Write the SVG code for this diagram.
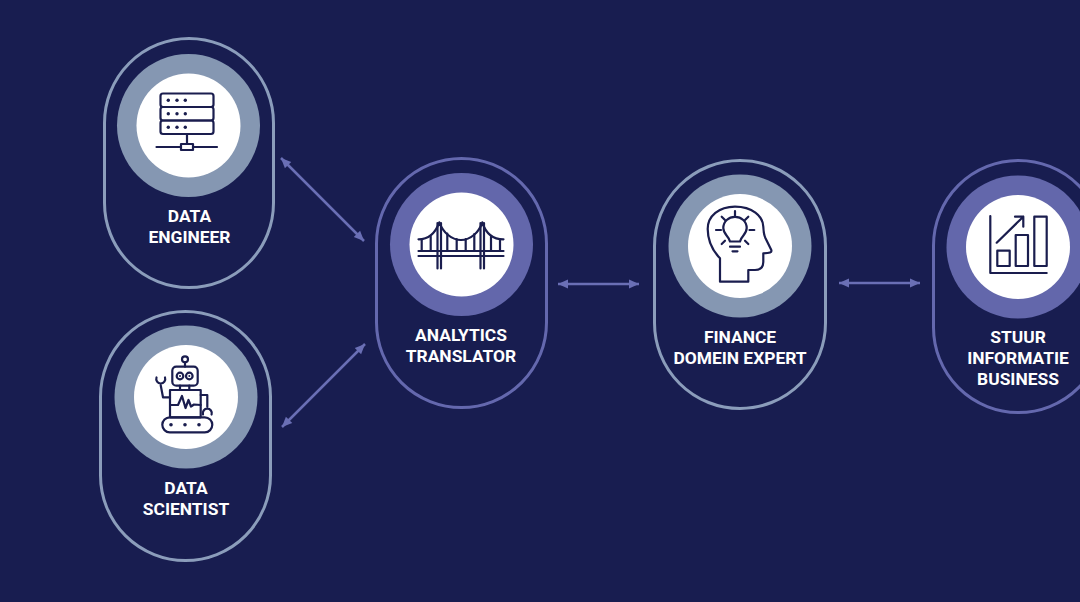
<svg xmlns="http://www.w3.org/2000/svg" width="1080" height="602" viewBox="0 0 1080 602">
<style>
.pa{fill:none;stroke:#8b9dbb;stroke-width:3}
.pb{fill:none;stroke:#6468ae;stroke-width:3}
.ca{fill:#8597b2}
.cb{fill:#6367ab}
.w{fill:#fff}
.i{fill:none;stroke:#1a1d4e;stroke-width:2.200;stroke-linecap:round;stroke-linejoin:round}
.d{fill:#1a1d4e}
.t{font-family:Roboto,"Liberation Sans",sans-serif;font-weight:700;font-size:17.400px;fill:#fff;text-anchor:middle}
.c{fill:none;stroke:#6a6fb5;stroke-width:2.500;marker-start:url(#s);marker-end:url(#e)}
</style>
<defs>
<marker id="e" markerUnits="userSpaceOnUse" markerWidth="12" markerHeight="10" refX="10" refY="5" orient="auto"><path d="M0 .5L10 5L0 9.500Z" fill="#6a6fb5"/></marker>
<marker id="s" markerUnits="userSpaceOnUse" markerWidth="12" markerHeight="10" refX="0" refY="5" orient="auto"><path d="M10 .5L0 5L10 9.500Z" fill="#6a6fb5"/></marker>
</defs>
<rect width="1080" height="602" fill="#181d50"/>
<g id="connectors">
<line class="c" x1="281" y1="158" x2="364" y2="241"/>
<line class="c" x1="282" y1="427" x2="365" y2="344"/>
<line class="c" x1="558" y1="284" x2="639" y2="284"/>
<line class="c" x1="839" y1="283" x2="920" y2="283"/>
</g>
<g id="data-engineer">
<rect class="pa" x="104.500" y="38.500" width="169" height="249" rx="84.500"/>
<circle class="ca" cx="188.500" cy="125.500" r="71.500"/><circle class="w" cx="188.500" cy="125.500" r="52"/>
<rect class="i" x="160.500" y="93.500" width="53" height="13.500" rx="2.500"/>
<rect class="i" x="160.500" y="107" width="53" height="13.500" rx="2.500"/>
<rect class="i" x="160.500" y="120.500" width="53" height="13.500" rx="2.500"/>
<g class="d"><circle cx="168.300" cy="100.300" r="1.700"/><circle cx="177" cy="100.300" r="1.700"/><circle cx="185.300" cy="100.300" r="1.700"/><circle cx="168.300" cy="113.800" r="1.700"/><circle cx="177" cy="113.800" r="1.700"/><circle cx="185.300" cy="113.800" r="1.700"/><circle cx="168.300" cy="127.300" r="1.700"/><circle cx="177" cy="127.300" r="1.700"/><circle cx="185.300" cy="127.300" r="1.700"/></g>
<path class="i" d="M187 134V144M156.500 147H181M193 147H217"/>
<rect class="i" x="181" y="144" width="12" height="6"/>
<text class="t" x="189.500" y="222">DATA</text><text class="t" x="189.500" y="243">ENGINEER</text>
</g>
<g id="data-scientist">
<rect class="pa" x="100.500" y="311.500" width="170" height="249" rx="85"/>
<circle class="ca" cx="186" cy="397" r="71.500"/><circle class="w" cx="186" cy="397" r="52"/>
<circle class="i" cx="185" cy="359.300" r="3"/><path class="i" d="M185 362.300V366.700"/>
<rect class="i" x="172.300" y="366.700" width="25.400" height="19" rx="4"/>
<circle class="i" cx="180" cy="376" r="3.300"/><circle class="i" cx="189.300" cy="376" r="3.300"/>
<circle class="d" cx="180" cy="376" r="1"/><circle class="d" cx="189.300" cy="376" r="1"/>
<path class="i" d="M180 385.700V390M189.300 385.700V390"/>
<rect class="i" x="170" y="390" width="30.700" height="27.300"/>
<path class="i" d="M170 405H178L182 396L185.500 408L188.500 400L191 406.500L194 404.500L200.700 405"/>
<rect class="i" x="162.300" y="417.300" width="50" height="15" rx="7.500"/>
<g class="d"><circle cx="171" cy="424.700" r="1.800"/><circle cx="185" cy="424.700" r="1.800"/><circle cx="199" cy="424.700" r="1.800"/></g>
<path class="i" d="M170 397.300H163L160.700 385.200M156.500 377.500A4.500 4.500 0 1 0 165 377.500"/>
<path class="i" d="M200.700 395H207.300V406.700M203 414.500A4.500 4.500 0 1 1 211.600 414.500"/>
<text class="t" x="186" y="494">DATA</text><text class="t" x="186" y="515">SCIENTIST</text>
</g>
<g id="analytics-translator">
<rect class="pb" x="376.500" y="158.500" width="170" height="249" rx="85"/>
<circle class="cb" cx="461.500" cy="244.500" r="71.500"/><circle class="w" cx="461.500" cy="244.500" r="52"/>
<path class="i" d="M437.500 223V268.500M441 223V268.500M480.500 223V268.500M484 223V268.500M418.500 251H503.500M418.500 256H503.500"/>
<path class="i" d="M418.500 239.300C428 239.300 435 234 439.300 222.300C443 232 451 240 461 240C471 240 479 232 482.300 222.300C486 234 494 239.300 503.500 239.300"/>
<path class="i" d="M421.700 239.500V251M430.700 236.500V251M447.300 233.500V251M456.700 239V251M465.700 239V251M474.300 234V251M491 236.500V251M500 239.500V251"/>
<text class="t" x="461" y="341">ANALYTICS</text><text class="t" x="461" y="362">TRANSLATOR</text>
</g>
<g id="finance-domein-expert">
<rect class="pa" x="654.500" y="160.500" width="171" height="248" rx="85.500"/>
<circle class="ca" cx="740" cy="246" r="71.500"/><circle class="w" cx="740" cy="246" r="52"/>
<path class="i" d="M720 281.700V258.300C712 250 707.700 240 707.700 229C707.700 216 719 206.700 735 206.700C752 206.700 763 216 763.300 226.700C763.500 232 764 235 765.500 238.300L771.300 250C772 252.500 770 253.300 763.300 253.300V262C763.300 267.500 760 270 755 270H748.300V281.700Z"/>
<path class="i" d="M730 241.500C729 236 723.300 234.500 723.300 228C723.300 221.500 728.500 216.800 735 216.800C741.500 216.800 746.700 221.500 746.700 228C746.700 234.500 741 236 740 241.500Z"/>
<path class="i" d="M730 246.700H740M732.500 251.300H737.500M735 211V215.500M721.700 216.700L725 220M748.300 216.700L745 220M716 230H721M749.500 230H754.300M721.700 244L725 240.700M748.300 244L745 240.700"/>
<text class="t" x="740" y="343">FINANCE</text><text class="t" x="740" y="364">DOMEIN EXPERT</text>
</g>
<g id="stuur-informatie-business">
<rect class="pb" x="933.500" y="160.500" width="170" height="252" rx="85"/>
<circle class="cb" cx="1018" cy="247" r="71.500"/><circle class="w" cx="1018" cy="247" r="52"/>
<path class="i" d="M990.300 216V273H1046.700"/>
<rect class="i" x="997.300" y="250.700" width="12.400" height="15.300"/>
<rect class="i" x="1015.700" y="235" width="12.300" height="31"/>
<rect class="i" x="1034.300" y="216.700" width="12.400" height="49.300"/>
<path class="i" d="M996.700 242.700L1023.300 216.700M1015 216.700H1023.300V226.700"/>
<text class="t" x="1018" y="343">STUUR</text><text class="t" x="1018" y="364">INFORMATIE</text><text class="t" x="1018" y="385">BUSINESS</text>
</g>
</svg>
